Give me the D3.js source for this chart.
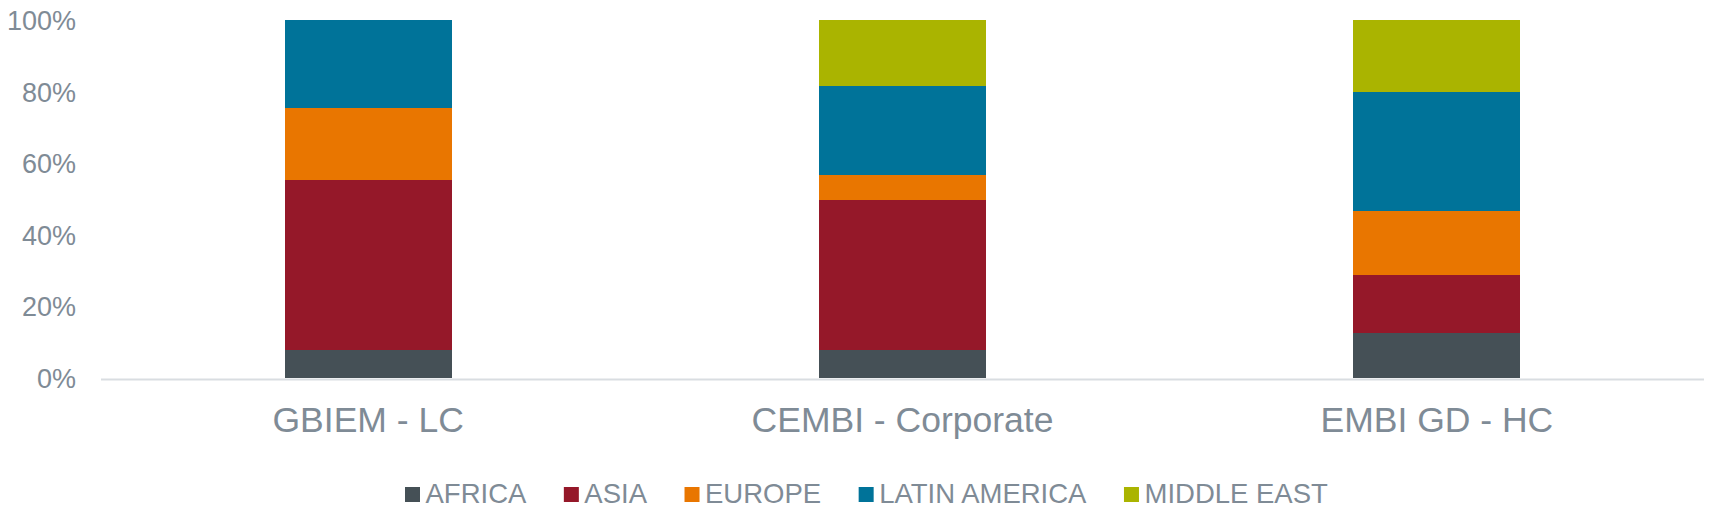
<!DOCTYPE html>
<html>
<head>
<meta charset="utf-8">
<script src="https://cdn.jsdelivr.net/npm/d3@7"></script>
<style>
  html, body { margin: 0; padding: 0; background: #ffffff; }
  svg { display: block; }
  text { font-family: "Liberation Sans", Arial, sans-serif; }
</style>
</head>
<body>
<svg id="chart" width="1711" height="514"></svg>
<script>
const categories = ["GBIEM - LC", "CEMBI - Corporate", "EMBI GD - HC"];
const seriesNames = ["AFRICA", "ASIA", "EUROPE", "LATIN AMERICA", "MIDDLE EAST"];
const africa = [7.9, 7.9, 12.7];
const asia = [47.4, 41.8, 16.2];
const europe = [20.2, 7.1, 17.8];
const latinAmerica = [24.5, 24.8, 33.3];
const middleEast = [0.0, 18.4, 20.0];
const seriesColors = ["#455056", "#951829", "#e97600", "#007399", "#aab400"];
const yTicks = [0, 20, 40, 60, 80, 100];

const seriesValues = [africa, asia, europe, latinAmerica, middleEast];
const rows = categories.map((c, i) => {
  const r = { category: c };
  seriesNames.forEach((s, j) => { r[s] = seriesValues[j][i]; });
  return r;
});

const svg = d3.select("#chart");
const plotLeft = 101, plotRight = 1704, plotTop = 20, plotBottom = 378;
const textColor = "#7f8b96";

const x = d3.scaleBand().domain(categories).range([plotLeft, plotRight])
  .paddingInner(0.6875).paddingOuter(0.34375);
const y = d3.scaleLinear().domain([0, 100]).range([plotBottom, plotTop]);
const color = d3.scaleOrdinal().domain(seriesNames).range(seriesColors);

const stack = d3.stack().keys(seriesNames);
const stacked = stack(rows);

svg.append("g").attr("shape-rendering", "crispEdges")
  .selectAll("g").data(stacked).join("g")
  .attr("fill", d => color(d.key))
  .selectAll("rect").data(d => d).join("rect")
  .attr("x", d => x(d.data.category))
  .attr("width", x.bandwidth())
  .attr("y", d => y(d[1]))
  .attr("height", d => Math.max(0, y(d[0]) - y(d[1])));

// y axis labels
const yAxis = d3.axisLeft(y).tickValues(yTicks).tickFormat(d => d + "%").tickSize(0).tickPadding(0);
const yg = svg.append("g").attr("transform", "translate(76,0)").call(yAxis);
yg.select(".domain").remove();
yg.selectAll("text").attr("fill", textColor).style("font-size", "27px")
  .style("font-family", "'Liberation Sans', Arial, sans-serif").attr("dy", "0.35em");

// baseline
svg.append("line").attr("x1", plotLeft).attr("x2", plotRight)
  .attr("y1", y(0) + 1.5).attr("y2", y(0) + 1.5)
  .attr("stroke", "#d9dde1").attr("stroke-width", 2);

// x axis labels
const xAxis = d3.axisBottom(x).tickSize(0).tickPadding(0);
const xg = svg.append("g").attr("transform", "translate(0,432)").call(xAxis);
xg.select(".domain").remove();
xg.selectAll("text").attr("fill", textColor).attr("dy", 0).attr("y", 0)
  .style("font-size", "35.5px").style("font-family", "'Liberation Sans', Arial, sans-serif");

// legend
const legend = svg.append("g");
let lx = 405;
seriesNames.forEach((s, i) => {
  legend.append("rect").attr("x", lx).attr("y", 487).attr("width", 15).attr("height", 15)
    .attr("fill", color(s));
  const t = legend.append("text").attr("x", lx + 20.5).attr("y", 503.3)
    .attr("fill", textColor).style("font-size", "27.5px").text(s);
  const w = t.node().getComputedTextLength();
  lx = lx + 20.5 + w + 37.5;
});
</script>
</body>
</html>
